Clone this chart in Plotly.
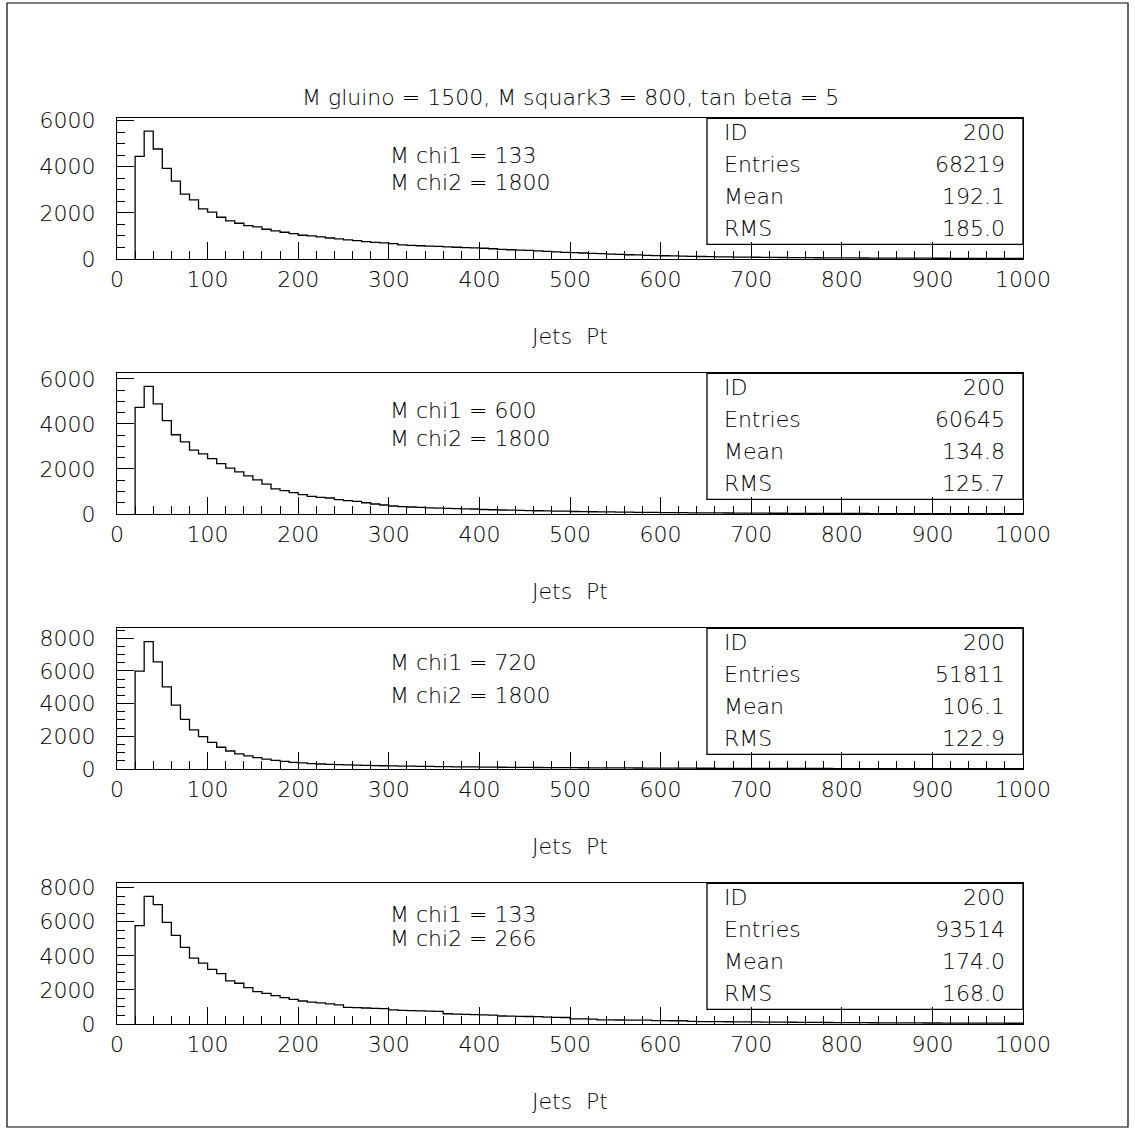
import plotly.graph_objects as go

# ---------------- data ----------------
bin_lo = list(range(20, 1000, 10))  # lower bin edges (bin width 10)
x_end = 1000

h1 = [4450, 5540, 4770, 3930, 3380, 2810, 2560, 2170, 2030, 1810,
      1650, 1550, 1450, 1390, 1290, 1220, 1160, 1100, 1030, 1000,
      960, 910, 870, 830, 800, 755, 725, 695, 665, 610,
      590, 575, 560, 545, 525, 510, 495, 480,
      465, 445, 420, 400, 385, 370, 350, 330, 310, 290,
      275, 260, 245, 230, 215, 200, 185, 175, 160, 150,
      140, 132, 124, 116, 108, 102, 96, 90, 85, 80,
      76, 72, 68, 65, 62, 59, 56, 54, 51, 49,
      47, 45, 43, 42, 40, 39, 37, 36, 35, 34,
      33, 32, 31, 30, 29, 28, 27, 27, 26, 25]

h2 = [4740, 5670, 4890, 4150, 3520, 3200, 2840, 2670, 2460, 2240,
      2040, 1870, 1690, 1520, 1330, 1120, 1040, 950, 860, 780,
      740, 710, 640, 590, 560, 500, 445, 400, 356, 330,
      310, 290, 275, 262, 250, 240, 232, 222,
      200, 188, 178, 168, 160, 152, 145, 138, 132, 125,
      112, 106, 100, 96, 92, 86, 80, 76, 72, 68,
      64, 60, 57, 54, 52, 49, 46, 44, 42, 40,
      38, 36, 34, 33, 31, 30, 28, 27, 26, 25,
      24, 23, 22, 21, 20, 19, 18, 18, 17, 16,
      16, 15, 15, 14, 14, 13, 13, 12, 12, 11]

h3 = [5990, 7790, 6560, 5030, 3910, 3040, 2390, 1980, 1630, 1330,
      1100, 920, 800, 690, 610, 530, 470, 410, 370, 330,
      305, 285, 265, 250, 235, 222, 210, 200, 190, 180,
      172, 164, 156, 149, 142, 136, 130, 124,
      118, 113, 108, 104, 100, 96, 92, 88, 85, 82,
      79, 76, 73, 70, 68, 65, 63, 61, 59, 57,
      55, 53, 51, 49, 47, 46, 44, 43, 41, 40,
      39, 37, 36, 35, 34, 33, 32, 31, 30, 29,
      28, 27, 27, 26, 25, 24, 24, 23, 22, 22,
      21, 21, 20, 20, 19, 19, 18, 18, 17, 17]

h4 = [5770, 7490, 7000, 5960, 5200, 4490, 3860, 3570, 3200, 2960,
      2530, 2390, 2140, 1900, 1800, 1670, 1550, 1450, 1350, 1280,
      1240, 1180, 1120, 980, 960, 940, 920, 900, 825, 805,
      780, 770, 760, 740, 600, 580, 570, 555,
      535, 525, 470, 460, 450, 440, 430, 400, 390, 380,
      300, 295, 290, 245, 240, 235, 230, 228, 225, 200,
      196, 192, 190, 150, 145, 140, 136, 132, 128, 124,
      120, 115, 110, 106, 102, 98, 95, 92, 88, 85,
      82, 79, 76, 74, 71, 69, 66, 64, 62, 60,
      58, 56, 54, 52, 50, 49, 47, 46, 44, 43]

hists = [h1, h2, h3, h4]
y_max = [6100, 6250, 8610, 8255]
chi1 = [133, 600, 720, 133]
chi2 = [1800, 1800, 1800, 266]
stat_id = [200, 200, 200, 200]
stat_entries = [68219, 60645, 51811, 93514]
stat_mean = ["192.1", "134.8", "106.1", "174.0"]
stat_rms = ["185.0", "125.7", "122.9", "168.0"]
title_text = "M gluino = 1500, M squark3 = 800, tan beta = 5"
x_title = "Jets\u00a0\u00a0Pt"

# ---------------- layout helpers ----------------
W, H = 1135, 1139
def px(x):
    return x / W
def py(y):
    return 1 - y / H

FONT = "DejaVu Sans"
FS = 22
FW = 200
TXT = "#000000"
FNT = dict(family=FONT, size=FS, color=TXT, weight=FW)

PX_L, PX_R = 117, 1023
TOP0, BOT0, STEP = 118.3, 259.0, 255.0
chi_rows = [(156, 182), (411, 438), (662, 695), (914, 938)]

fig = go.Figure()
layout = dict(
    width=W, height=H, autosize=False,
    margin=dict(l=0, r=0, t=0, b=0, pad=0, autoexpand=False),
    paper_bgcolor="white", plot_bgcolor="white",
    showlegend=False,
    font=FNT,
)
shapes = []
annotations = []

for i, h in enumerate(hists):
    top = TOP0 + STEP * i
    bot = BOT0 + STEP * i
    xa = "xaxis" if i == 0 else f"xaxis{i+1}"
    ya = "yaxis" if i == 0 else f"yaxis{i+1}"
    xr = "x" if i == 0 else f"x{i+1}"
    yr = "y" if i == 0 else f"y{i+1}"

    xs = [bin_lo[0]] + bin_lo + [x_end]
    ys = [0] + h + [h[-1]]
    fig.add_trace(go.Scatter(x=xs, y=ys, mode="lines", line_shape="hv",
                             line=dict(color="black", width=1.3),
                             xaxis=xr, yaxis=yr, hoverinfo="skip"))

    layout[xa] = dict(domain=[px(PX_L), px(PX_R)], anchor=yr, range=[0, 1000],
                      tickmode="linear", tick0=0, dtick=100,
                      ticks="inside", ticklen=17, tickwidth=1.2, tickcolor="black",
                      minor=dict(ticks="inside", ticklen=8, dtick=20, tick0=0,
                                 tickcolor="black", tickwidth=1.2, showgrid=False),
                      showline=True, linecolor="black", linewidth=1.3, mirror=True,
                      showgrid=False, zeroline=False, automargin=False,
                      tickfont=FNT, ticklabelstandoff=0)
    layout[ya] = dict(domain=[py(bot), py(top)], anchor=xr, range=[0, y_max[i]],
                      tickmode="linear", tick0=0, dtick=2000,
                      ticks="inside", ticklen=17, tickwidth=1.2, tickcolor="black",
                      minor=dict(ticks="inside", ticklen=8, dtick=500, tick0=0,
                                 tickcolor="black", tickwidth=1.2, showgrid=False),
                      showline=True, linecolor="black", linewidth=1.3, mirror=True,
                      showgrid=False, zeroline=False, automargin=False,
                      tickfont=FNT, ticklabelstandoff=16)

    annotations.append(dict(x=px(570), y=py(336 + STEP * i), xref="paper", yref="paper",
                            text=x_title, showarrow=False, xanchor="center", yanchor="middle"))
    r1, r2 = chi_rows[i]
    annotations.append(dict(x=px(388), y=py(r1), xref="paper", yref="paper",
                            text=f"M chi1 = {chi1[i]}", showarrow=False,
                            xanchor="left", yanchor="middle"))
    annotations.append(dict(x=px(388), y=py(r2), xref="paper", yref="paper",
                            text=f"M chi2 = {chi2[i]}", showarrow=False,
                            xanchor="left", yanchor="middle"))
    shapes.append(dict(type="rect", xref="paper", yref="paper",
                       x0=px(707), x1=px(PX_R), y0=py(top + 126), y1=py(top),
                       line=dict(color="black", width=1.3), fillcolor="rgba(0,0,0,0)"))
    rows = [("ID", str(stat_id[i])), ("Entries", str(stat_entries[i])),
            ("Mean", stat_mean[i]), ("RMS", stat_rms[i])]
    for k, (lab, val) in enumerate(rows):
        yy = top + 14 + 32.2 * k
        annotations.append(dict(x=px(722), y=py(yy), xref="paper", yref="paper",
                                text=lab, showarrow=False, xanchor="left", yanchor="middle"))
        annotations.append(dict(x=px(1007), y=py(yy), xref="paper", yref="paper",
                                text=val, showarrow=False, xanchor="right", yanchor="middle"))

annotations.append(dict(x=px(570), y=py(97), xref="paper", yref="paper",
                        text=title_text, showarrow=False, xanchor="center", yanchor="middle"))
shapes.append(dict(type="rect", xref="paper", yref="paper",
                   x0=px(7), x1=px(1128), y0=py(1127), y1=py(3),
                   line=dict(color="black", width=1.2), fillcolor="rgba(0,0,0,0)"))

layout["shapes"] = shapes
layout["annotations"] = annotations
fig.update_layout(**layout)
fig.write_html("out.html", config={"displayModeBar": False},
               post_script="document.body.style.margin='0';document.body.style.overflow='hidden';")
